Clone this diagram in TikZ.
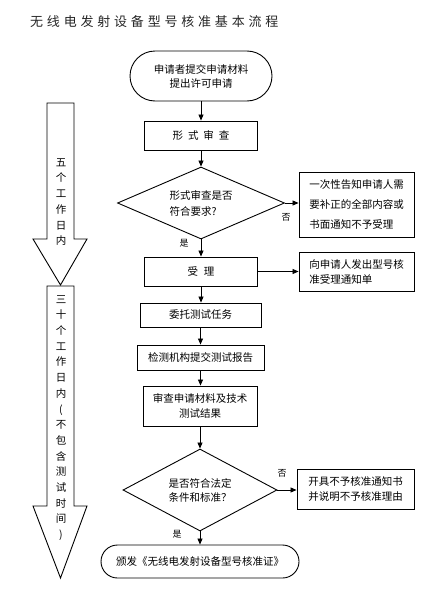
\documentclass[tikz,border=0pt]{standalone}
\usepackage{fontspec}
\setmainfont{Noto Sans CJK SC}
\usetikzlibrary{shapes.geometric,shapes.misc,arrows.meta}
\newcommand\tsp{\hspace{3.8pt}}
\begin{document}
\begin{tikzpicture}[x=1pt,y=-1pt,
  every node/.style={font=\fontsize{10.5}{15}\selectfont, inner sep=0pt},
  box/.style={draw, line width=0.9pt, align=center},
  sidebox/.style={draw, line width=0.9pt, align=left, minimum width=115pt},
  termbox/.style={draw, line width=0.9pt, shape=rounded rectangle, align=center},
  decide/.style={draw, line width=0.9pt, shape=diamond, align=left},
  lbl/.style={font=\fontsize{9}{10}\selectfont},
  vtext/.style={align=center, font=\fontsize{10.5}{15.7}\selectfont},
  bigarrow/.style={draw, line width=0.9pt},
  arr/.style={-{Triangle[length=6pt,width=5pt]}, line width=0.8pt}
]
\useasboundingbox (0,0) rectangle (444,589);

% title
\node[anchor=west, font=\fontsize{13}{16}\selectfont, text=black!85] (title) at (30,21.5)
  {无\tsp 线\tsp 电\tsp 发\tsp 射\tsp 设\tsp 备\tsp 型\tsp 号\tsp 核\tsp 准\tsp 基\tsp 本\tsp 流\tsp 程};

% main column
\node[termbox, minimum width=142pt, minimum height=50pt, font=\fontsize{10.5}{14}\selectfont] (start) at (201,76)
  {申请者提交申请材料\\提出许可申请};
\node[box, minimum width=113pt, minimum height=29pt] (check) at (201,135.5)
  {形\hspace{5pt}式\hspace{5pt}审\hspace{5pt}查};
\node[decide, minimum width=167pt, minimum height=72pt, aspect=2.3, font=\fontsize{10.5}{16}\selectfont] (d1) at (201,203)
  {形式审查是否\\符合要求?};
\node[box, minimum width=113pt, minimum height=29pt] (accept) at (201,271.5)
  {受\hspace{6pt}理};
\node[box, minimum width=121pt, minimum height=24pt] (entrust) at (200.5,315)
  {委托测试任务};
\node[box, minimum width=127pt, minimum height=25pt] (report) at (200.5,357.5)
  {检测机构提交测试报告};
\node[box, minimum width=114pt, minimum height=40pt] (review) at (200,406)
  {审查申请材料及技术\\测试结果};
\node[decide, minimum width=154pt, minimum height=82pt, aspect=1.9, font=\fontsize{10.5}{14}\selectfont] (d2) at (200,490)
  {是否符合法定\\条件和标准？};
\node[termbox, minimum width=198pt, minimum height=33pt] (issue) at (200,561.5)
  {颁发《无线电发射设备型号核准证》};

% side boxes
\node[sidebox, minimum height=65pt, font=\fontsize{10.5}{20}\selectfont] (notify) at (356.5,204.5)
  {一次性告知申请人需\\要补正的全部内容或\\书面通知不予受理};
\node[sidebox, minimum height=39pt] (notice) at (356.5,271.5)
  {向申请人发出型号核\\准受理通知单};
\node[sidebox, minimum width=117pt, minimum height=40pt] (reject) at (355.5,489)
  {开具不予核准通知书\\并说明不予核准理由};

% connectors
\draw[arr] (start.south) -- (start.south |- check.north);
\draw[arr] (check.south) -- (check.south |- d1.north);
\draw[arr] (d1.south) -- (d1.south |- accept.north);
\draw[arr] (accept.south) -- (accept.south |- entrust.north);
\draw[arr] (entrust.south) -- (entrust.south |- report.north);
\draw[arr] (report.south) -- (report.south |- review.north);
\draw[arr] (review.south) -- (review.south |- d2.north);
\draw[arr] (d2.south) -- (d2.south |- issue.north);
\draw[arr] (d1.east) -- (d1.east -| notify.west);
\draw[arr] (accept.east) -- (accept.east -| notice.west);
\draw[arr] (d2.east) -- (d2.east -| reject.west);

% labels
\node[lbl] (no1) at (286,217) {否};
\node[lbl] (yes1) at (184,243) {是};
\node[lbl] (no2) at (282,473) {否};
\node[lbl] (yes2) at (177,534) {是};

% left big arrows
\draw[bigarrow] (47,103) -- (74,103) -- (74,239) -- (87,239) -- (60.5,285) -- (33,239) -- (47,239) -- cycle;
\draw[bigarrow] (47,286) -- (74,286) -- (74,506) -- (87,506) -- (60.5,578) -- (33,506) -- (47,506) -- cycle;
\node[vtext] (five) at (61,202) {五\\个\\工\\作\\日\\内};
\node[vtext] (thirty) at (61,418) {三\\十\\个\\工\\作\\日\\内\\(\\不\\包\\含\\测\\试\\时\\间\\)};
\end{tikzpicture}
\end{document}
